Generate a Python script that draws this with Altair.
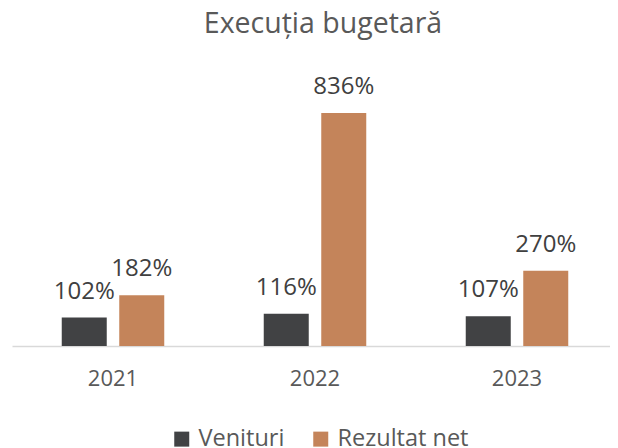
import altair as alt
import pandas as pd

years = ["2021", "2022", "2023"]
series = ["Venituri", "Rezultat net"]
venituri = [102, 116, 107]
rezultat = [182, 836, 270]

rows = []
for i, y in enumerate(years):
    rows.append({"an": y, "serie": series[0], "val": venituri[i], "lbl": f"{venituri[i]}%"})
    rows.append({"an": y, "serie": series[1], "val": rezultat[i], "lbl": f"{rezultat[i]}%"})
df = pd.DataFrame(rows)

FONT = "Open Sans"

x = alt.X("an:N", title=None, sort=years,
          scale=alt.Scale(paddingInner=0, paddingOuter=0, range=[0, 606]),
          axis=alt.Axis(labelAngle=0, labelFont=FONT, labelFontSize=22, labelColor="#595959",
                        domainColor="#D9D9D9", domainWidth=1.5, ticks=False, labelPadding=22))
xo = alt.XOffset("serie:N", sort=series,
                 scale=alt.Scale(paddingInner=0.2174, paddingOuter=0.865))
y = alt.Y("val:Q", scale=alt.Scale(domain=[0, 897]), axis=None)

bars = alt.Chart(df).mark_bar().encode(
    x=x, xOffset=xo, y=y,
    color=alt.Color("serie:N", sort=series,
                    scale=alt.Scale(domain=series, range=["#414244", "#C4845A"]),
                    legend=alt.Legend(title=None, orient="none", direction="horizontal",
                                      legendX=158, legendY=331,
                                      symbolType="square", symbolSize=225, symbolStrokeWidth=0,
                                      labelFont=FONT, labelFontSize=23.5, labelColor="#595959",
                                      labelOffset=5, columnPadding=24))
)

labels = alt.Chart(df).mark_text(font=FONT, fontSize=24, color="#404040",
                                 baseline="alphabetic", dy=-19).encode(
    x=x, xOffset=xo, y=y, text="lbl:N"
)

chart = (bars + labels).properties(
    width=598, height=250,
    padding={"left": 4, "top": 88, "right": 0, "bottom": 102},
    autosize=alt.AutoSizeParams(type="none"),
    title=alt.TitleParams("Execuția bugetară", font=FONT, fontSize=28.5, fontWeight="normal",
                          color="#595959", offset=37, dx=12),
).configure_view(stroke=None)

chart.save("out.html", embed_options={"renderer": "svg", "actions": False})
